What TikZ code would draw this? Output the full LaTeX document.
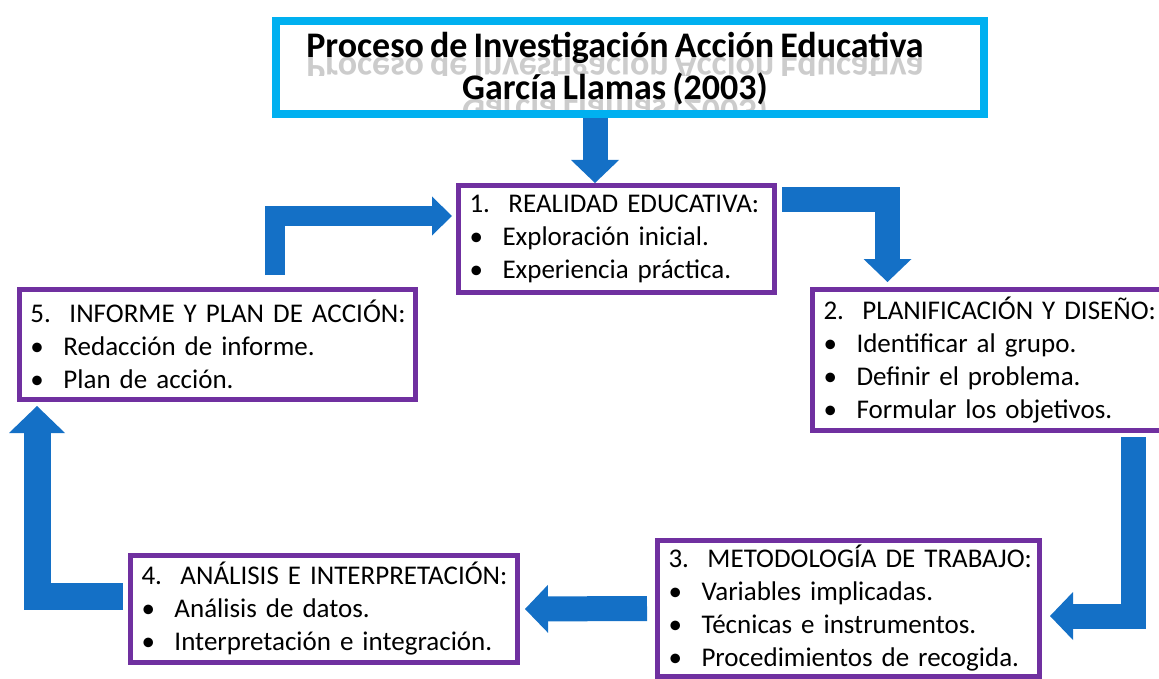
\documentclass[tikz,border=0pt]{standalone}
\usepackage{fontspec}
\setmainfont{Carlito}[WordSpace=0.75]
\usetikzlibrary{arrows.meta}

\definecolor{morado}{HTML}{7030A0}
\definecolor{celeste}{HTML}{00B0F0}
\definecolor{azul}{HTML}{1470C6}

\newcommand{\enc}[2]{\mbox{\makebox[39pt][l]{#1}#2}}
\newcommand{\itm}[1]{\mbox{\makebox[33pt][l]{\textbullet}#1}}

\begin{document}
\begin{tikzpicture}[x=1pt, y=-1pt,
    paso/.style={draw=morado, line width=5pt, fill=white, anchor=north west, inner xsep=11pt, inner ysep=0pt, align=left, font=\fontsize{27}{33}\selectfont},
    titulo/.style={draw=celeste, line width=8pt, fill=white, inner sep=0pt},
    tit/.style={font=\fontsize{36}{42}\selectfont\bfseries, inner sep=0pt, anchor=base},
    reflejo/.style={tit, transform shape, text=black!20},
    flecha/.style={draw=azul, line width=25pt, -{Triangle[width=48pt,length=23pt,line width=0pt]}}
]
\useasboundingbox (0,0) rectangle (1159,679);

% ---- title ----
\node[titulo, minimum width=708pt, minimum height=93pt] (titulo) at (630,67.5) {};
\begin{scope}
  \clip (300,58) rectangle (940,76);
  \begin{scope}[shift={(615,58)}, yscale=-1]
    \node[reflejo] (ref1) at (0,0) {Proceso de Investigación Acción Educativa};
  \end{scope}
\end{scope}
\begin{scope}
  \clip (300,100) rectangle (940,110);
  \begin{scope}[shift={(615,100)}, yscale=-1]
    \node[reflejo] (ref2) at (0,0) {García Llamas (2003)};
  \end{scope}
\end{scope}
\node[tit] (tit1) at (615,58) {Proceso de Investigación Acción Educativa};
\node[tit] (tit2) at (615,100) {García Llamas (2003)};

% ---- steps ----
\node[paso, text width=294pt, minimum height=107pt] (realidad) at (456,183)
  {\enc{1.}{REALIDAD EDUCATIVA:}\\ \itm{Exploración inicial.}\\ \itm{Experiencia práctica.}};
\node[paso, text width=330pt, minimum height=141pt] (planif) at (810,287)
  {\enc{2.}{PLANIFICACIÓN Y DISEÑO:}\\ \itm{Identificar al grupo.}\\ \itm{Definir el problema.}\\ \itm{Formular los objetivos.}};
\node[paso, text width=360pt, minimum height=136pt] (metodo) at (655,538)
  {\enc{3.}{METODOLOGÍA DE TRABAJO:}\\ \itm{Variables implicadas.}\\ \itm{Técnicas e instrumentos.}\\ \itm{Procedimientos de recogida.}};
\node[paso, text width=365pt, minimum height=107pt] (analisis) at (128,553)
  {\enc{4.}{ANÁLISIS E INTERPRETACIÓN:}\\ \itm{Análisis de datos.}\\ \itm{Interpretación e integración.}};
\node[paso, text width=374pt, minimum height=110pt] (informe) at (17,287)
  {\enc{5.}{INFORME Y PLAN DE ACCIÓN:}\\ \itm{Redacción de informe.}\\ \itm{Plan de acción.}};

% ---- arrows ----
\draw[flecha] ([xshift=-35pt]titulo.south) -- ([xshift=-35pt]titulo.south |- realidad.north);
\draw[flecha] ([xshift=5pt,yshift=39.5pt]realidad.east) -| ([xshift=-101pt,yshift=5pt]planif.north);
\draw[flecha] ([xshift=144.5pt,yshift=-4pt]planif.south) |- ([xshift=8pt,yshift=-7.5pt]metodo.east);
\draw[flecha] ([xshift=-8pt]metodo.west) -- ([xshift=5pt]analisis.east);
\draw[flecha, line width=27pt, -{Triangle[width=56pt,length=27pt,line width=0pt]}]
  ([xshift=-5pt,yshift=13pt]analisis.west) -| ([xshift=-180.5pt,yshift=-4pt]informe.south);
\draw[flecha, line width=20pt, -{Triangle[width=39pt,length=20pt,line width=0pt]}]
  ([xshift=57pt,yshift=12pt]informe.north) |- ([xshift=-4pt,yshift=23pt]realidad.west);

\end{tikzpicture}
\end{document}
